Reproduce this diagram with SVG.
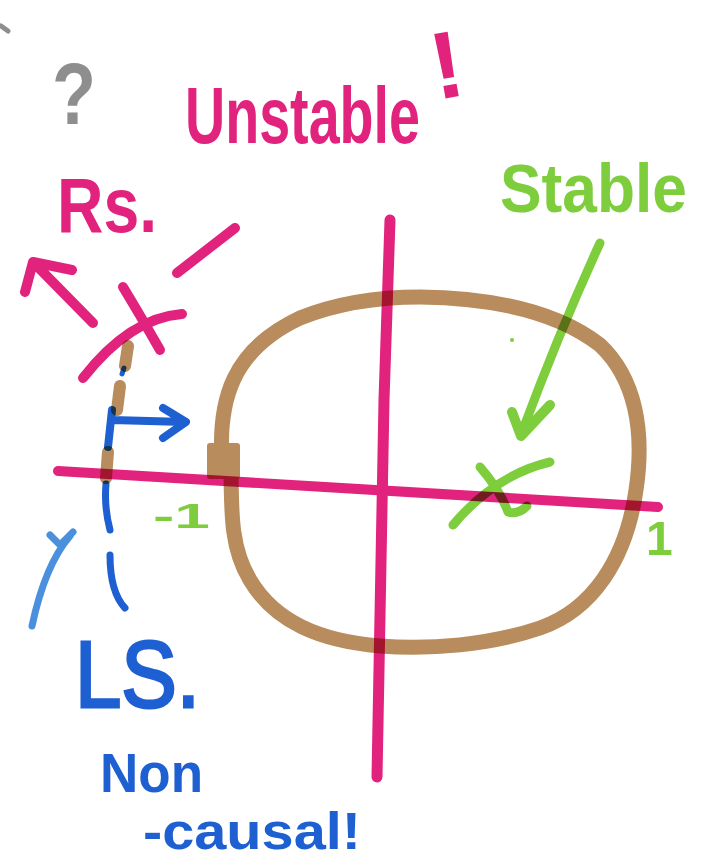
<svg xmlns="http://www.w3.org/2000/svg" width="709" height="861" viewBox="0 0 709 861">
<style>
.m{fill:none;stroke-linecap:round;stroke-linejoin:round}
.mg{stroke:#e2237e}
.br{stroke:#b88c5c}
.gr{stroke:#7dcd3c}
.bl{stroke:#1e5fd2}
.lb{stroke:#4a90dc}
.gy{stroke:#8e8e8e}
.ink{mix-blend-mode:multiply}
.t{font-family:"Liberation Sans",Arial,sans-serif;font-weight:bold}
</style>
<rect width="709" height="861" fill="#ffffff"/>

<g id="axes" class="ink">
<path class="m mg" d="M58,471 L658,507" stroke-width="10"/>
<path class="m mg" d="M390,220 L384,400 L377,777" stroke-width="11"/>
</g>

<g id="unit-circle" class="ink">
<path class="m br" d="M222,462 C218,400 232,350 300,318 C340,302 380,297 420,297 C500,298 560,314 600,345 C635,378 645,430 636,490 C626,560 592,610 540,628 C490,645 430,650 380,646 C320,641 275,622 250,580 C232,550 231,520 231,462" stroke-width="15"/>
<rect x="207" y="443" width="33" height="36" rx="3" fill="#b88c5c"/>
</g>

<g id="region-rs" class="ink">
<path class="m mg" d="M177,273 L235,228" stroke-width="10"/>
<path class="m mg" d="M123,287 Q140,315 160,350" stroke-width="10"/>
<path class="m mg" d="M182,314 Q130,318 83,378" stroke-width="10"/>
<path class="m mg" d="M93,323 L33,262 M72,270 L33,262 L25,292" stroke-width="10"/>
</g>

<g id="region-ls-brown" class="ink">
<path class="m br" d="M128,346 L125,366" stroke-width="12"/>
<path class="m br" d="M120,386 L117,410" stroke-width="12"/>
<path class="m br" d="M108,452 L106,478" stroke-width="12"/>
</g>
<g id="region-ls" class="ink">
<path class="m bl" d="M124,368 L122,374" stroke-width="5"/>
<path class="m bl" d="M112,410 L108,447 M112,420 L185,422 M163,408 L186,422 L163,438" stroke-width="8"/>
<path class="m bl" d="M106,484 Q104,507 110,530 M110,555 Q110,592 125,608" stroke-width="7"/>
<path class="m lb" d="M70,536 Q45,565 32,626 M50,535 L60,545 L73,532" stroke-width="7"/>
</g>

<g id="stable-pole" class="ink">
<path class="m gr" d="M600,243 Q560,330 522,432" stroke-width="9"/>
<path class="m gr" d="M512,412 L521,436 L550,405" stroke-width="10"/>
<path class="m gr" d="M550,462 Q495,475 453,525" stroke-width="9"/>
<path class="m gr" d="M480,467 Q500,490 508,512 Q518,515 527,506" stroke-width="9"/>
<circle cx="512" cy="340" r="2" fill="#7dcd3c"/>
</g>

<g id="labels">
<path class="m gy" d="M1,26 L8,31" stroke-width="5"/>
<text class="t" x="52" y="124" font-size="88" fill="#8e8e8e" textLength="44" lengthAdjust="spacingAndGlyphs">?</text>
<text class="t" x="185" y="143" font-size="80" fill="#e2237e" textLength="235" lengthAdjust="spacingAndGlyphs">Unstable</text>
<text class="t" x="430" y="98" font-size="95" fill="#e2237e" transform="rotate(-10 445 60)">!</text>
<text class="t" x="57" y="232" font-size="78" fill="#e2237e" textLength="100" lengthAdjust="spacingAndGlyphs">Rs.</text>
<text class="t" x="500" y="212" font-size="68" fill="#7dcd3c" textLength="187" lengthAdjust="spacingAndGlyphs">Stable</text>
<text class="t" x="153" y="528" font-size="35" fill="#7dcd3c" textLength="57" lengthAdjust="spacingAndGlyphs">-1</text>
<text class="t" x="646" y="555" font-size="48" fill="#7dcd3c">1</text>
<text x="75" y="707" font-size="94" fill="#1e5fd2" stroke="#1e5fd2" stroke-width="3" font-family="Liberation Sans, Arial, sans-serif" textLength="125" lengthAdjust="spacingAndGlyphs">LS.</text>
<text class="t" x="100" y="792" font-size="56" fill="#1e5fd2" textLength="103" lengthAdjust="spacingAndGlyphs">Non</text>
<text class="t" x="143" y="849" font-size="52" fill="#1e5fd2" textLength="218" lengthAdjust="spacingAndGlyphs">-causal!</text>
</g>
</svg>
